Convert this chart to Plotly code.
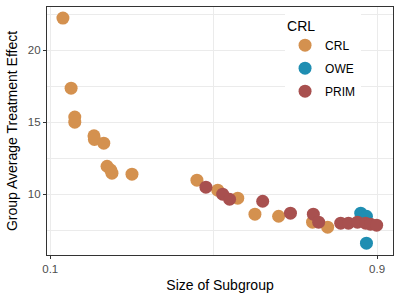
import plotly.graph_objects as go

# Data
crl_x = [0.131, 0.151, 0.160, 0.160, 0.207, 0.208, 0.231, 0.239, 0.248, 0.251, 0.300,
         0.459, 0.510, 0.559, 0.601, 0.659, 0.742, 0.779]
crl_y = [22.22, 17.36, 15.35, 15.00, 14.05, 13.80, 13.54, 11.94, 11.67, 11.46, 11.39,
         10.97, 10.28, 9.72, 8.61, 8.47, 8.06, 7.71]

owe_x = [0.860, 0.874, 0.874]
owe_y = [8.68, 8.47, 6.60]

prim_x = [0.481, 0.522, 0.539, 0.620, 0.688, 0.744, 0.757, 0.811, 0.830, 0.852,
          0.872, 0.884, 0.899]
prim_y = [10.49, 10.00, 9.65, 9.51, 8.68, 8.61, 8.06, 7.99, 7.99, 8.06,
          7.99, 7.92, 7.85]

series = [("CRL", crl_x, crl_y, "#D4914F"),
          ("OWE", owe_x, owe_y, "#1F8EB2"),
          ("PRIM", prim_x, prim_y, "#A8504F")]

x_ticks = [0.1, 0.9]
y_ticks = [10, 15, 20]

fig = go.Figure()
for i, (name, xs, ys, col) in enumerate(series):
    fig.add_trace(go.Scatter(x=xs, y=ys, mode="markers", name=name,
                             legendgroup=name, legendrank=i + 1,
                             marker=dict(size=13, color=col, line=dict(width=0))))

font = "Liberation Sans, Arial, sans-serif"
fig.update_layout(
    width=400, height=300,
    margin=dict(l=47, r=7, t=7, b=45),
    paper_bgcolor="white", plot_bgcolor="white",
    font=dict(family=font, size=12, color="black"),
    showlegend=True,
    legend=dict(title=dict(text="CRL", font=dict(size=14)),
                x=0.688, y=0.978, xanchor="left", yanchor="top",
                bgcolor="white", font=dict(size=12), tracegroupgap=4,
                itemsizing="trace"),
    xaxis=dict(range=[0.092, 0.939], tickvals=x_ticks,
               ticktext=["0.1", "0.9"], automargin=False,
               showgrid=True, gridcolor="#EBEBEB", gridwidth=1,
               minor=dict(tickvals=[0.5], showgrid=True, gridcolor="#EBEBEB",
                          gridwidth=0.6, ticks=""),
               zeroline=False, showline=True, linecolor="#333333", linewidth=1.2,
               mirror=True, ticks="outside", ticklen=3, tickcolor="#333333",
               tickfont=dict(size=11.5, color="#4D4D4D"),
               title=dict(text="Size of Subgroup", font=dict(size=14), standoff=6)),
    yaxis=dict(range=[5.78, 22.99], tickvals=y_ticks, automargin=False,
               showgrid=True, gridcolor="#EBEBEB", gridwidth=1,
               minor=dict(tickvals=[7.5, 12.5, 17.5, 22.5], showgrid=True,
                          gridcolor="#EBEBEB", gridwidth=0.6, ticks=""),
               zeroline=False, showline=True, linecolor="#333333", linewidth=1.2,
               mirror=True, ticks="outside", ticklen=3, tickcolor="#333333",
               tickfont=dict(size=11.5, color="#4D4D4D"),
               title=dict(text="Group Average Treatment Effect", font=dict(size=14),
                          standoff=6)),
)

fig.write_html("out.html", config={"displayModeBar": False},
               post_script="document.body.style.margin='0';")
